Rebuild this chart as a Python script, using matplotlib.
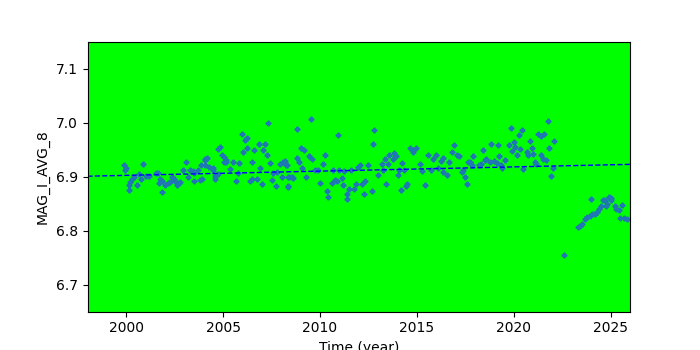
import numpy as np
import matplotlib
matplotlib.use("Agg")
import matplotlib.pyplot as plt

# MAG_I_AVG_8 trend readings (year, value)
years = [
    1999.86, 1999.98, 1999.95, 2000.84, 2000.67, 2000.21, 2000.15, 2000.12, 2000.29, 2000.38,
    2000.55, 2000.77, 2001.02, 2001.15, 2001.53, 2001.63, 2001.75, 2001.84, 2001.70, 2001.87,
    2002.01, 2002.15, 2002.27, 2002.44, 2002.53, 2002.36, 2002.70, 2002.78, 2002.61, 2002.95,
    2003.09, 2003.21, 2003.30, 2003.42, 2003.52, 2003.51, 2003.70, 2003.81, 2003.93, 2003.87,
    2004.04,
    2007.33, 2005.96, 2006.13, 2006.22, 2004.76, 2004.85, 2006.87, 2007.16, 2006.25, 2006.05,
    2006.61, 2007.08, 2007.28, 2004.06, 2004.19, 2004.93, 2005.05, 2005.15, 2005.02, 2005.15,
    2005.53, 2005.84, 2006.51, 2007.42, 2004.07, 2004.29, 2004.47, 2004.47, 2005.36, 2006.91,
    2007.94, 2008.11, 2008.25, 2004.59, 2004.71, 2005.79, 2007.59, 2007.80, 2004.59, 2005.67,
    2006.39, 2006.48, 2006.77, 2007.54, 2008.03, 2008.37, 2007.03, 2007.72, 2008.37,
    2009.52, 2008.83, 2010.94, 2012.75, 2012.80, 2009.02, 2009.19, 2010.26, 2009.43, 2009.60,
    2008.80, 2008.92, 2008.20, 2008.28, 2010.17, 2009.09, 2011.94, 2012.06, 2012.49, 2009.74,
    2009.91, 2010.69, 2010.99, 2011.25, 2011.60, 2008.40, 2008.54, 2008.62, 2009.26, 2011.12,
    2010.00, 2010.60, 2010.77, 2010.86, 2011.20, 2011.86, 2012.18, 2012.32, 2008.37, 2010.35,
    2011.51, 2011.77, 2011.38, 2012.28, 2012.70, 2010.43, 2011.41,
    2014.64, 2014.81, 2014.98, 2014.78, 2016.92, 2016.79, 2017.05, 2017.18, 2013.81, 2013.92,
    2013.75, 2013.57, 2013.35, 2015.58, 2015.98, 2015.84, 2016.24, 2016.36, 2016.66, 2014.24,
    2015.15, 2013.18, 2013.52, 2016.10, 2013.01, 2013.26, 2014.09, 2014.04, 2014.33, 2015.27,
    2015.72, 2016.36, 2016.53, 2013.40, 2015.41, 2014.43, 2014.50, 2014.18,
    2019.88, 2020.43, 2020.27, 2021.25, 2021.39, 2021.56, 2020.02, 2020.09, 2019.91, 2019.76,
    2018.81, 2019.19, 2020.84, 2020.94, 2020.31, 2018.42, 2020.17, 2020.69, 2020.74, 2020.99,
    2021.39, 2021.51, 2017.90, 2019.23, 2018.54, 2018.59, 2018.76, 2018.98, 2019.11, 2019.57,
    2021.08, 2021.17, 2017.64, 2017.73, 2018.30, 2018.20, 2017.82, 2019.33, 2019.40, 2020.48,
    2017.39, 2017.34, 2017.47, 2017.59,
    2021.77, 2021.82, 2022.08, 2021.65, 2022.03, 2021.94,
    2022.59, 2023.31, 2023.40, 2023.54, 2023.66, 2023.78, 2023.92, 2024.06, 2024.18, 2024.29,
    2024.40, 2024.52, 2023.97, 2024.60, 2024.69, 2024.78, 2024.83, 2024.91, 2025.04, 2025.00,
    2025.21, 2025.26, 2025.43, 2025.58, 2025.46, 2025.67, 2025.84,
]
values = [
    6.921, 6.917, 6.913, 6.923, 6.905, 6.890, 6.884, 6.876, 6.896, 6.899,
    6.884, 6.896, 6.902, 6.902, 6.907, 6.907, 6.896, 6.893, 6.888, 6.871,
    6.884, 6.888, 6.891, 6.896, 6.893, 6.899, 6.888, 6.890, 6.884, 6.912,
    6.928, 6.899, 6.913, 6.910, 6.907, 6.893, 6.912, 6.894, 6.896, 6.921,
    6.932,
    6.999, 6.979, 6.968, 6.971, 6.952, 6.956, 6.960, 6.961, 6.954, 6.945,
    6.950, 6.949, 6.941, 6.933, 6.935, 6.940, 6.936, 6.932, 6.927, 6.927,
    6.928, 6.926, 6.928, 6.926, 6.921, 6.919, 6.917, 6.912, 6.915, 6.917,
    6.923, 6.927, 6.921, 6.902, 6.906, 6.907, 6.907, 6.908, 6.896, 6.893,
    6.893, 6.895, 6.896, 6.894, 6.899, 6.899, 6.886, 6.882, 6.882,
    7.008, 6.988, 6.978, 6.961, 6.987, 6.954, 6.949, 6.941, 6.938, 6.933,
    6.935, 6.928, 6.929, 6.921, 6.924, 6.917, 6.919, 6.921, 6.921, 6.912,
    6.913, 6.912, 6.912, 6.910, 6.912, 6.899, 6.899, 6.898, 6.900, 6.898,
    6.889, 6.889, 6.894, 6.892, 6.884, 6.887, 6.886, 6.892, 6.881, 6.874,
    6.878, 6.878, 6.868, 6.868, 6.873, 6.863, 6.859,
    6.954, 6.950, 6.954, 6.946, 6.958, 6.946, 6.941, 6.938, 6.944, 6.938,
    6.933, 6.941, 6.933, 6.941, 6.941, 6.933, 6.930, 6.935, 6.928, 6.926,
    6.923, 6.923, 6.924, 6.917, 6.904, 6.912, 6.912, 6.904, 6.913, 6.910,
    6.913, 6.908, 6.904, 6.886, 6.884, 6.882, 6.886, 6.876,
    6.991, 6.987, 6.978, 6.980, 6.975, 6.979, 6.964, 6.956, 6.947, 6.958,
    6.961, 6.959, 6.966, 6.954, 6.952, 6.950, 6.940, 6.946, 6.940, 6.943,
    6.941, 6.933, 6.938, 6.938, 6.932, 6.933, 6.928, 6.929, 6.925, 6.932,
    6.927, 6.923, 6.927, 6.928, 6.923, 6.921, 6.921, 6.921, 6.917, 6.915,
    6.912, 6.908, 6.899, 6.886,
    7.003, 6.954, 6.966, 6.932, 6.917, 6.902,
    6.755, 6.806, 6.809, 6.812, 6.822, 6.825, 6.828, 6.830, 6.831, 6.834,
    6.840, 6.845, 6.859, 6.857, 6.856, 6.846, 6.850, 6.863, 6.861, 6.856,
    6.845, 6.840, 6.838, 6.848, 6.824, 6.824, 6.822,
]

# fitted trend line end points
fit_years = [1998.0, 2026.0]
fit_vals = [6.901, 6.923]

fig, ax = plt.subplots(figsize=(7, 3.5), dpi=100)
ax.set_facecolor('#00ff00')
ax.plot(years, values, 'P', color='tab:blue', markersize=3.3, linestyle='none')
ax.plot(fit_years, fit_vals, 'b--', linewidth=1)
ax.set_xlim(1998, 2026)
ax.set_ylim(6.65, 7.15)
ax.set_xlabel("Time (year)")
ax.set_ylabel("MAG_I_AVG_8")
plt.savefig("out.png")
